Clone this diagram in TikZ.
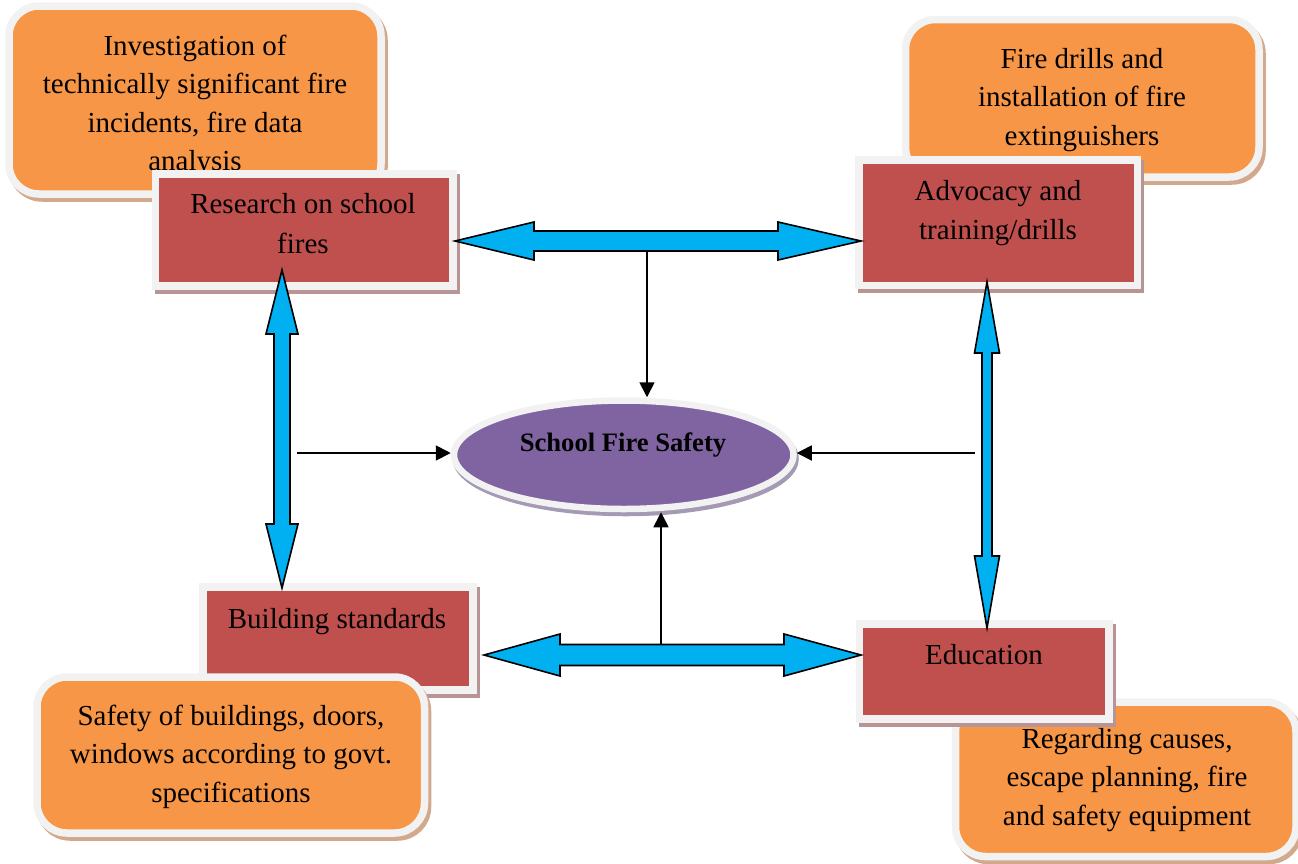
\documentclass[tikz,border=0pt]{standalone}
\usepackage{fontspec}
\setmainfont{Liberation Serif}
\usetikzlibrary{shadows,shapes.geometric,arrows.meta}
\definecolor{orangefill}{HTML}{F79646}
\definecolor{redfill}{HTML}{C0504D}
\definecolor{purplefill}{HTML}{8064A2}
\definecolor{bluefill}{HTML}{00B0F0}
\definecolor{rim}{HTML}{F2F2F2}
\definecolor{orangeshadow}{HTML}{D2A98C}
\definecolor{redshadow}{HTML}{B89494}
\definecolor{purpleshadow}{HTML}{A49AB4}
\tikzset{
  basebox/.style={inner sep=0pt, draw=rim, line width=7.5pt},
  notebox/.style={basebox, rectangle, fill=orangefill, rounded corners=30pt,
    drop shadow={shadow xshift=3pt, shadow yshift=-4pt, fill=orangeshadow,
      draw=orangeshadow, line width=7.5pt, opacity=1}},
  topicbox/.style={basebox, rectangle, fill=redfill,
    drop shadow={shadow xshift=3pt, shadow yshift=-4pt, fill=redshadow,
      draw=redshadow, line width=7.5pt, opacity=1}},
  hub/.style={basebox, ellipse, line width=6.5pt, fill=purplefill,
    drop shadow={shadow xshift=2pt, shadow yshift=-4pt, fill=purpleshadow,
      draw=purpleshadow, line width=6.5pt, opacity=1}},
  boxtext/.style={font=\fontsize{29}{38.5}\selectfont, align=center,
    anchor=base, inner sep=0pt},
  hubtext/.style={font=\fontsize{26.6}{30}\selectfont\bfseries, anchor=base,
    inner sep=0pt},
  blockarrow/.style={fill=bluefill, draw=black, line width=1.6pt, line join=miter},
  thinarrow/.style={draw=black, line width=1.8pt,
    -{Triangle[length=15pt,width=15pt]}}
}
\begin{document}
\begin{tikzpicture}[x=1pt,y=-1pt]
\useasboundingbox (0,0) rectangle (1298,863);

% top-left note and research box (text anchored at the baseline of its last line)
\node[notebox, minimum width=372pt, minimum height=188pt] (tlnote) at (195,100) {};
\node[boxtext] (tltxt) at (195,170.5) {Investigation of\\technically significant fire\\incidents, fire data\\analysis};
\node[topicbox, minimum width=297.5pt, minimum height=112pt] (research) at (304.25,230) {};
\node[boxtext, font=\fontsize{29}{40}\selectfont] (researchtxt) at (303,253) {Research on school\\fires};

% top-right note and advocacy box
\node[notebox, minimum width=353.5pt, minimum height=157.5pt] (trnote) at (1082.25,98.25) {};
\node[boxtext] (trtxt) at (1082,145) {Fire drills and\\installation of fire\\extinguishers};
\node[topicbox, minimum width=278.5pt, minimum height=125.5pt] (advocacy) at (998.25,222.75) {};
\node[boxtext] (advtxt) at (998,239) {Advocacy and\\training/drills};

% building standards and bottom-left note
\node[topicbox, minimum width=270pt, minimum height=103pt] (building) at (338,638.5) {};
\node[boxtext] (buildtxt) at (337,628) {Building standards};
\node[notebox, minimum width=387.5pt, minimum height=156pt] (blnote) at (230.75,755) {};
\node[boxtext] (bltxt) at (231,802) {Safety of buildings, doors,\\windows according to govt.\\specifications};

% bottom-right note and education box
\node[notebox, minimum width=340.5pt, minimum height=154.5pt] (brnote) at (1125.75,779.25) {};
\node[boxtext] (brtxt) at (1127,825) {Regarding causes,\\escape planning, fire\\and safety equipment};
\node[topicbox, minimum width=249.5pt, minimum height=95pt] (education) at (984.25,671.5) {};
\node[boxtext] (edutxt) at (984,664) {Education};

% hub
\node[hub, minimum width=339.5pt, minimum height=108.5pt] (safety) at (623.75,454.75) {};
\node[hubtext] (safetytxt) at (623,451) {School Fire Safety};

% block double arrows
\path[blockarrow] (455,241) -- (534,222) -- (534,231) -- (778,231) -- (778,222)
  -- (861,241) -- (778,260) -- (778,251) -- (534,251) -- (534,260) -- cycle;
\path[blockarrow] (282,270) -- (298,334) -- (290,334) -- (290,524) -- (298,524)
  -- (282,588) -- (266,524) -- (274,524) -- (274,334) -- (266,334) -- cycle;
\path[blockarrow] (987,282) -- (999.5,353) -- (992,353) -- (992,556) -- (999.5,556)
  -- (987,628) -- (974.5,556) -- (982,556) -- (982,353) -- (974.5,353) -- cycle;
\path[blockarrow] (484,655) -- (560,634) -- (560,644.5) -- (784,644.5) -- (784,634)
  -- (861,655) -- (784,676) -- (784,665.5) -- (560,665.5) -- (560,676) -- cycle;

% thin arrows into the hub
\coordinate (topmid) at (647,251);
\coordinate (leftmid) at (297,453);
\coordinate (rightmid) at (975,453);
\coordinate (botmid) at (661,644.5);
\draw[thinarrow] (topmid) -- (topmid |- safety.north);
\draw[thinarrow] (leftmid) -- (leftmid -| safety.west);
\draw[thinarrow] (rightmid) -- (rightmid -| safety.east);
\draw[thinarrow] (botmid) -- (botmid |- safety.south);
\end{tikzpicture}
\end{document}
